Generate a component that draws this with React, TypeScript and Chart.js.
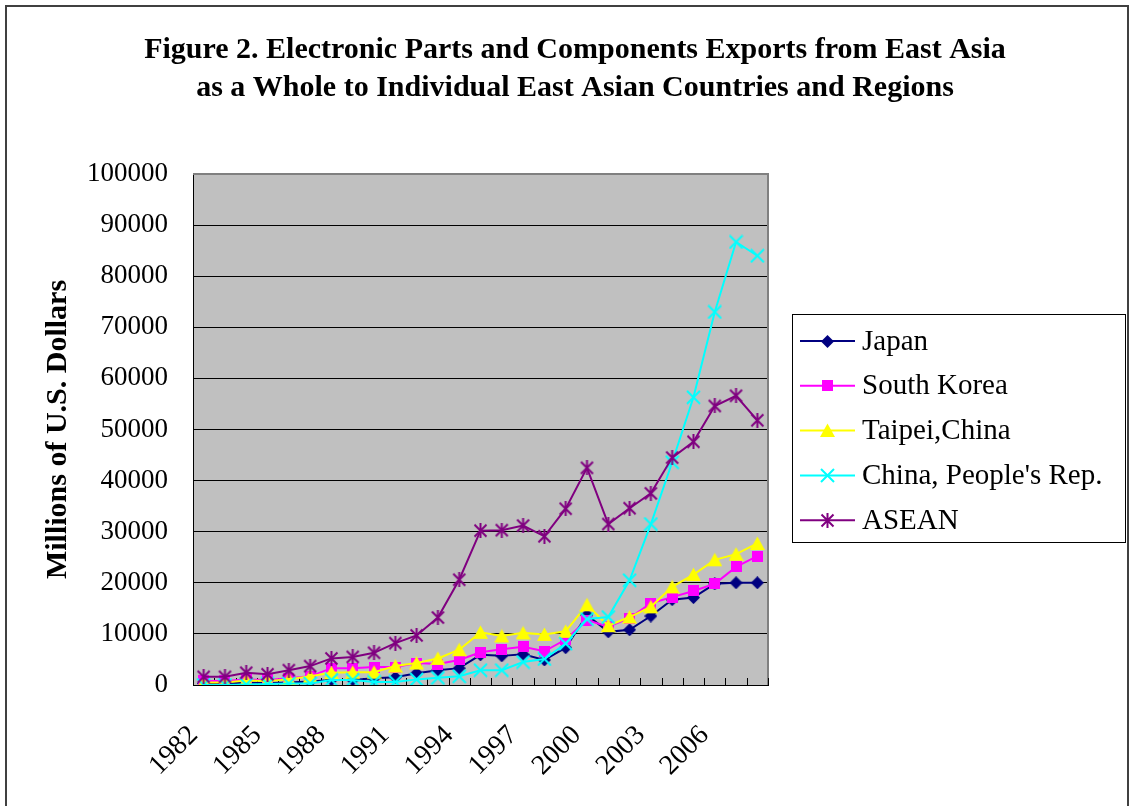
import React, { useEffect, useRef } from 'react';
import { Chart, registerables } from 'chart.js';

Chart.register(...registerables);

// ---------- data ----------
const years = [
  '1982', '1983', '1984', '1985', '1986', '1987', '1988', '1989', '1990',
  '1991', '1992', '1993', '1994', '1995', '1996', '1997', '1998', '1999',
  '2000', '2001', '2002', '2003', '2004', '2005', '2006', '2007', '2008',
];
const labelEvery = 3;

const japan = [
  300, 300, 500, 400, 500, 700, 1000, 1000, 1300, 1500, 2300, 2900, 3300, 5900,
  5700, 6000, 4900, 7300, 13700, 10400, 10800, 13500, 16700, 17100, 19800, 20000, 20000,
];
const southKorea = [
  800, 800, 1100, 1000, 1300, 1700, 3300, 3300, 3500, 3500, 4300, 4100, 4900, 6400,
  7000, 7500, 6600, 8900, 12700, 11400, 13100, 16000, 17200, 18400, 19800, 23100, 25200,
];
const taipei = [
  500, 500, 900, 800, 1100, 1700, 2400, 2500, 2500, 3700, 4300, 5200, 6900, 10300,
  9600, 10200, 9900, 10500, 15700, 11600, 13300, 15300, 19200, 21600, 24500, 25600, 27700,
];
const chinaPR = [
  0, 0, 100, 200, 300, 300, 1000, 1000, 600, 600, 1100, 1400, 1700, 2900,
  2900, 4500, 5100, 8100, 12900, 13300, 20500, 31500, 43600, 56300, 73000, 86700, 84000,
];
const asean = [
  1600, 1600, 2400, 2100, 2900, 3700, 5200, 5500, 6300, 8200, 9700, 13200, 20600, 30200,
  30300, 31200, 29100, 34500, 42500, 31500, 34600, 37500, 44500, 47600, 54600, 56600, 51800,
];

const seriesNames = ['Japan', 'South Korea', 'Taipei,China', "China, People's Rep.", 'ASEAN'];
const seriesColors = ['#000080', '#FF00FF', '#FFFF00', '#00FFFF', '#800080'];

const titleLines = [
  'Figure 2. Electronic Parts and Components Exports from East Asia',
  'as a Whole to Individual East Asian Countries and Regions',
];
const yTitle = 'Millions of U.S. Dollars';

// ---------- markers ----------
function makeMarker(kind: string, color: string): HTMLCanvasElement {
  const c = document.createElement('canvas');
  const s = kind === 'square' ? 11 : kind === 'diamond' ? 13 : 15;
  c.width = s;
  c.height = s;
  const g = c.getContext('2d')!;
  g.fillStyle = color;
  g.strokeStyle = color;
  g.lineWidth = 2;
  if (kind === 'diamond') {
    g.beginPath();
    g.moveTo(s / 2, 0);
    g.lineTo(s, s / 2);
    g.lineTo(s / 2, s);
    g.lineTo(0, s / 2);
    g.closePath();
    g.fill();
  } else if (kind === 'square') {
    g.fillRect(0, 0, s, s);
  } else if (kind === 'triangle') {
    g.beginPath();
    g.moveTo(s / 2, 0.5);
    g.lineTo(s, s - 1);
    g.lineTo(0, s - 1);
    g.closePath();
    g.fill();
  } else if (kind === 'x') {
    g.beginPath();
    g.moveTo(1, 1);
    g.lineTo(s - 1, s - 1);
    g.moveTo(s - 1, 1);
    g.lineTo(1, s - 1);
    g.stroke();
  } else if (kind === 'star') {
    g.beginPath();
    g.moveTo(s / 2, 0);
    g.lineTo(s / 2, s);
    g.moveTo(1.5, 1.5);
    g.lineTo(s - 1.5, s - 1.5);
    g.moveTo(s - 1.5, 1.5);
    g.lineTo(1.5, s - 1.5);
    g.stroke();
  }
  return c;
}

const markerKinds = ['diamond', 'square', 'triangle', 'x', 'star'];

export default function App() {
  const ref = useRef<HTMLCanvasElement | null>(null);

  useEffect(() => {
    const canvas = ref.current;
    if (!canvas) return;
    const markers = markerKinds.map((k, i) => makeMarker(k, seriesColors[i]));
    const values = [japan, southKorea, taipei, chinaPR, asean];

    const serif = "'Liberation Serif', 'Times New Roman', serif";

    const decor = {
      id: 'decor',
      beforeDraw(chart: any) {
        const ctx = chart.ctx;
        const a = chart.chartArea;
        ctx.save();
        ctx.fillStyle = '#ffffff';
        ctx.fillRect(0, 0, chart.width, chart.height);
        ctx.strokeStyle = '#404040';
        ctx.lineWidth = 2;
        ctx.strokeRect(6, 6, 1122, 830);
        ctx.fillStyle = '#C0C0C0';
        ctx.fillRect(a.left, a.top, a.right - a.left, a.bottom - a.top);
        ctx.restore();
      },
      beforeDatasetsDraw(chart: any) {
        const ctx = chart.ctx;
        const a = chart.chartArea;
        const xs = chart.scales.x;
        ctx.save();
        // plot-area frame
        ctx.strokeStyle = '#808080';
        ctx.lineWidth = 2;
        ctx.beginPath();
        ctx.moveTo(a.left, a.top);
        ctx.lineTo(a.right, a.top);
        ctx.lineTo(a.right, a.bottom);
        ctx.stroke();
        // inward category tick marks
        const half = (xs.getPixelForValue(1) - xs.getPixelForValue(0)) / 2;
        ctx.strokeStyle = '#000000';
        ctx.lineWidth = 1;
        ctx.beginPath();
        for (let i = 0; i <= years.length; i++) {
          const x = Math.round(xs.getPixelForValue(i) - half) + 0.5;
          ctx.moveTo(x, a.bottom);
          ctx.lineTo(x, a.bottom - 7);
        }
        ctx.stroke();
        ctx.restore();
      },
      afterDraw(chart: any) {
        const ctx = chart.ctx;
        const a = chart.chartArea;
        ctx.save();
        // title
        ctx.fillStyle = '#000';
        ctx.textAlign = 'center';
        ctx.textBaseline = 'middle';
        ctx.font = `bold 30px ${serif}`;
        ctx.fillText(titleLines[0], 575, 50);
        ctx.fillText(titleLines[1], 575, 88);
        // y axis title
        ctx.save();
        ctx.translate(58, (a.top + a.bottom) / 2);
        ctx.rotate(-Math.PI / 2);
        ctx.font = `bold 30px ${serif}`;
        ctx.fillText(yTitle, 0, 0);
        ctx.restore();
        // legend
        const bx = 792, by = 314, bw = 333, bh = 228;
        ctx.fillStyle = '#ffffff';
        ctx.fillRect(bx, by, bw, bh);
        ctx.strokeStyle = '#000000';
        ctx.lineWidth = 1;
        ctx.strokeRect(bx + 0.5, by + 0.5, bw, bh);
        ctx.textAlign = 'left';
        ctx.font = `29px ${serif}`;
        seriesNames.forEach((name, i) => {
          const y = by + 27 + i * 44.8;
          ctx.strokeStyle = seriesColors[i];
          ctx.lineWidth = 2;
          ctx.beginPath();
          ctx.moveTo(800, y);
          ctx.lineTo(855, y);
          ctx.stroke();
          const m = markers[i];
          ctx.drawImage(m, Math.round(827 - m.width / 2), Math.round(y - m.height / 2));
          ctx.fillStyle = '#000';
          ctx.fillText(name, 862, y + 1);
        });
        ctx.restore();
      },
    };

    const chart = new Chart(canvas, {
      type: 'line',
      data: {
        labels: years,
        datasets: seriesNames.map((name, i) => ({
          label: name,
          data: values[i],
          borderColor: seriesColors[i],
          backgroundColor: seriesColors[i],
          borderWidth: 2,
          pointStyle: markers[i] as any,
          pointRadius: 7,
          tension: 0,
          fill: false,
          order: 5 - i,
        })),
      },
      options: {
        responsive: false,
        animation: false,
        devicePixelRatio: 1,
        layout: { padding: { top: 174, right: 367, bottom: 0, left: 0 } },
        plugins: {
          legend: { display: false },
          title: { display: false },
          tooltip: { enabled: false },
        },
        scales: {
          x: {
            type: 'category',
            offset: true,
            grid: { display: false, offset: true },
            border: { display: true, color: '#000000', width: 1 },
            ticks: {
              autoSkip: false,
              maxRotation: 45,
              minRotation: 45,
              padding: 26,
              labelOffset: -10,
              color: '#000000',
              font: { family: serif, size: 28 },
              callback: (_v: any, i: number) => (i % labelEvery === 0 ? years[i] : ''),
            },
            afterFit: (s: any) => {
              s.height = 121;
            },
          },
          y: {
            min: 0,
            max: 100000,
            grid: { color: '#000000', lineWidth: 1, drawTicks: false },
            border: { display: true, color: '#000000', width: 1 },
            ticks: {
              stepSize: 10000,
              padding: 25,
              color: '#000000',
              font: { family: serif, size: 27 },
              callback: (v: any) => String(v),
            },
            afterFit: (s: any) => {
              s.width = 193;
            },
          },
        },
      },
      plugins: [decor],
    });
    return () => chart.destroy();
  }, []);

  return (
    <div style={{ position: 'fixed', left: 0, top: 0, width: 1135, height: 806, background: '#fff' }}>
      <canvas ref={ref} width={1135} height={806} style={{ display: 'block', width: 1135, height: 806 }} />
    </div>
  );
}
